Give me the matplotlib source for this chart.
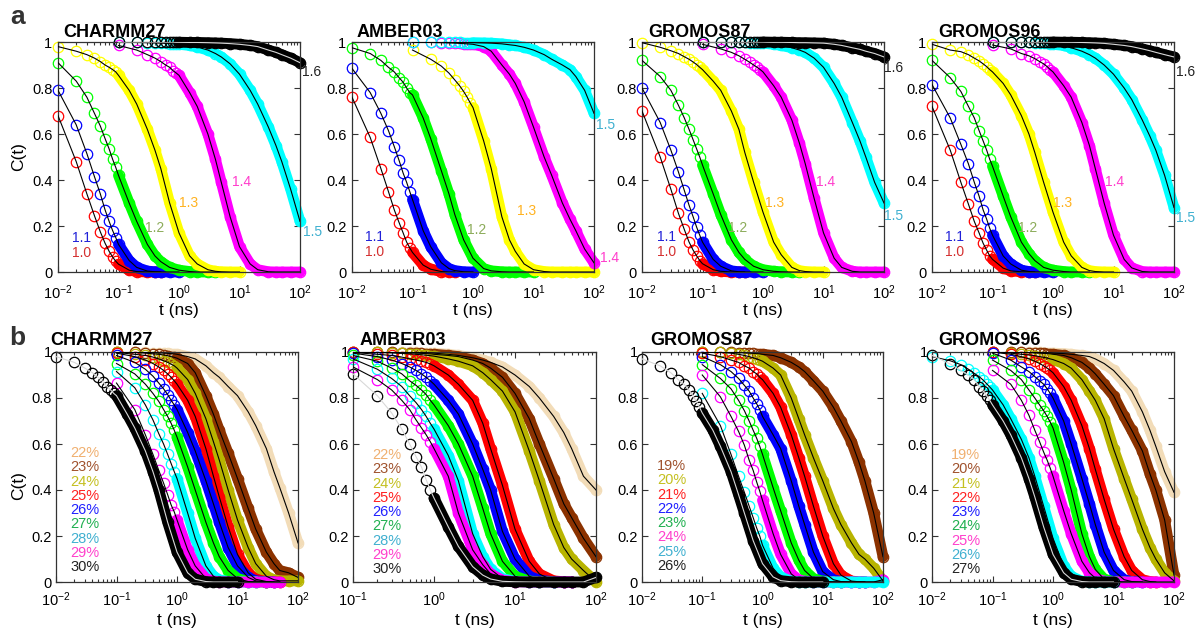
import matplotlib
matplotlib.use("Agg")
import matplotlib.pyplot as plt

plt.rcParams['font.family'] = 'Liberation Sans'
plt.rcParams['mathtext.fontset'] = 'custom'
plt.rcParams['mathtext.rm'] = 'Liberation Sans'
plt.rcParams['mathtext.it'] = 'Liberation Sans:italic'
plt.rcParams['mathtext.bf'] = 'Liberation Sans:bold'

# sampling times (ns): fine = every 0.01 ns at the start, coarse = every 0.1 ns
T_FINE = [0.01, 0.02, 0.03, 0.04, 0.05, 0.06, 0.07, 0.08, 0.09, 0.1,
          0.15, 0.2, 0.3, 0.4, 0.5, 0.7, 1, 1.5, 2, 3, 4, 5, 7, 10]
T_COARSE = [0.1, 0.2, 0.3, 0.4, 0.5, 0.6, 0.7, 0.8, 0.9, 1.0,
            1.5, 2, 3, 4, 5, 7, 10, 15, 20, 30, 40, 50, 70, 100]

# ---- row a : CHARMM27
a1_10 = [0.68, 0.48, 0.34, 0.245, 0.175, 0.125, 0.09, 0.065, 0.047, 0.034, 0.008, 0.002, 0, 0, 0]
a1_11 = [0.79, 0.64, 0.515, 0.415, 0.34, 0.27, 0.22, 0.18, 0.15, 0.12, 0.05, 0.02, 0.004, 0.001, 0, 0, 0]
a1_12 = [0.91, 0.83, 0.76, 0.69, 0.635, 0.58, 0.535, 0.49, 0.455, 0.42,
         0.3, 0.22, 0.12, 0.07, 0.045, 0.02, 0.008, 0.002, 0, 0, 0]
a1_13 = [0.98, 0.96, 0.945, 0.93, 0.915, 0.9, 0.89, 0.88, 0.87, 0.855,
         0.79, 0.73, 0.62, 0.53, 0.45, 0.3, 0.17, 0.07, 0.035, 0.01, 0.003, 0.001, 0, 0]
a1_14 = [0.985, 0.965, 0.945, 0.93, 0.915, 0.9, 0.89, 0.875, 0.865, 0.855,
         0.78, 0.72, 0.6, 0.49, 0.39, 0.24, 0.11, 0.035, 0.01, 0.001, 0, 0, 0, 0]
a1_15 = [1.0, 0.998, 0.997, 0.996, 0.995, 0.994, 0.993, 0.992, 0.991, 0.99,
         0.985, 0.978, 0.965, 0.95, 0.935, 0.905, 0.86, 0.79, 0.73, 0.63, 0.55, 0.48, 0.36, 0.22]
a1_16 = [1.0, 1.0, 1.0, 1.0, 1.0, 1.0, 1.0, 1.0, 0.999, 0.999,
         0.998, 0.998, 0.997, 0.996, 0.995, 0.993, 0.99, 0.985, 0.98, 0.965, 0.955, 0.945, 0.93, 0.91]

# ---- row a : AMBER03
a2_10 = [0.76, 0.585, 0.45, 0.35, 0.27, 0.215, 0.17, 0.13, 0.105, 0.085, 0.03, 0.012, 0.002, 0, 0]
a2_11 = [0.885, 0.78, 0.69, 0.615, 0.545, 0.485, 0.43, 0.39, 0.35, 0.315, 0.18, 0.11, 0.04, 0.015, 0.006, 0.001, 0]
a2_12 = [0.975, 0.95, 0.92, 0.89, 0.87, 0.845, 0.825, 0.8, 0.78, 0.77,
         0.67, 0.58, 0.44, 0.34, 0.25, 0.14, 0.06, 0.015, 0.005, 0.001, 0, 0, 0, 0]
a2_13 = [0.965, 0.925, 0.895, 0.865, 0.835, 0.81, 0.785, 0.76, 0.735, 0.715,
         0.57, 0.45, 0.24, 0.14, 0.09, 0.035, 0.01, 0.002, 0, 0, 0, 0, 0, 0]
a2_14 = [1.0, 0.998, 0.997, 0.996, 0.995, 0.994, 0.993, 0.992, 0.991, 0.99,
         0.98, 0.96, 0.9, 0.86, 0.82, 0.74, 0.63, 0.5, 0.42, 0.3, 0.23, 0.18, 0.1, 0.04]
a2_15 = [1.0, 0.999, 0.999, 0.998, 0.998, 0.998, 0.997, 0.997, 0.997, 0.997,
         0.996, 0.995, 0.992, 0.988, 0.985, 0.977, 0.965, 0.945, 0.925, 0.9, 0.88, 0.85, 0.79, 0.69]

# ---- row a : GROMOS87
a3_10 = [0.70, 0.50, 0.36, 0.255, 0.185, 0.13, 0.095, 0.07, 0.05, 0.036, 0.01, 0.003, 0, 0, 0]
a3_11 = [0.80, 0.65, 0.53, 0.435, 0.355, 0.29, 0.24, 0.195, 0.16, 0.13, 0.055, 0.025, 0.005, 0.001, 0, 0, 0]
a3_12 = [0.92, 0.85, 0.79, 0.725, 0.67, 0.62, 0.575, 0.535, 0.5, 0.465,
         0.34, 0.25, 0.14, 0.085, 0.055, 0.025, 0.01, 0.003, 0.001, 0, 0]
a3_13 = [0.997, 0.977, 0.962, 0.95, 0.936, 0.925, 0.913, 0.902, 0.89, 0.88,
         0.83, 0.79, 0.7, 0.62, 0.52, 0.39, 0.26, 0.13, 0.075, 0.02, 0.006, 0.002, 0, 0]
a3_14 = [0.99, 0.97, 0.955, 0.94, 0.925, 0.912, 0.9, 0.89, 0.88, 0.87,
         0.81, 0.76, 0.66, 0.56, 0.47, 0.32, 0.17, 0.06, 0.02, 0.003, 0, 0, 0, 0]
a3_15 = [1.0, 0.999, 0.999, 0.998, 0.998, 0.997, 0.997, 0.996, 0.996, 0.995,
         0.99, 0.985, 0.975, 0.965, 0.955, 0.93, 0.89, 0.82, 0.76, 0.65, 0.57, 0.5, 0.39, 0.3]
a3_16 = [1.0, 1.0, 1.0, 1.0, 1.0, 1.0, 1.0, 1.0, 1.0, 1.0,
         0.999, 0.999, 0.998, 0.997, 0.997, 0.996, 0.995, 0.99, 0.985, 0.975, 0.968, 0.96, 0.95, 0.935]

# ---- row a : GROMOS96
a4_10 = [0.72, 0.53, 0.39, 0.295, 0.22, 0.17, 0.125, 0.095, 0.07, 0.055, 0.017, 0.005, 0.001, 0, 0]
a4_11 = [0.815, 0.67, 0.555, 0.47, 0.39, 0.33, 0.27, 0.23, 0.19, 0.16, 0.07, 0.035, 0.008, 0.002, 0, 0, 0]
a4_12 = [0.92, 0.845, 0.785, 0.72, 0.67, 0.615, 0.57, 0.53, 0.49, 0.46,
         0.33, 0.24, 0.13, 0.08, 0.05, 0.02, 0.008, 0.002, 0, 0, 0]
a4_13 = [0.99, 0.965, 0.958, 0.945, 0.93, 0.918, 0.905, 0.893, 0.88, 0.87,
         0.82, 0.77, 0.68, 0.6, 0.52, 0.39, 0.26, 0.13, 0.07, 0.02, 0.006, 0.002, 0, 0]
a4_14 = [0.987, 0.97, 0.95, 0.94, 0.928, 0.915, 0.905, 0.893, 0.88, 0.87,
         0.81, 0.76, 0.65, 0.55, 0.45, 0.3, 0.16, 0.055, 0.018, 0.002, 0, 0, 0, 0]
a4_15 = [1.0, 0.999, 0.998, 0.998, 0.997, 0.996, 0.995, 0.994, 0.993, 0.99,
         0.985, 0.975, 0.96, 0.945, 0.93, 0.9, 0.86, 0.8, 0.75, 0.66, 0.59, 0.53, 0.42, 0.28]
a4_16 = [1.0, 1.0, 1.0, 1.0, 1.0, 1.0, 1.0, 1.0, 1.0, 1.0,
         0.999, 0.999, 0.998, 0.997, 0.996, 0.994, 0.99, 0.985, 0.98, 0.97, 0.962, 0.955, 0.945, 0.935]

# ---- row b : CHARMM27 (22% ... 30%)
b1_22 = [1.0, 0.999, 0.998, 0.997, 0.996, 0.995, 0.994, 0.993, 0.992, 0.99,
         0.98, 0.97, 0.94, 0.91, 0.89, 0.85, 0.81, 0.74, 0.68, 0.58, 0.48, 0.41, 0.3, 0.17]
b1_23 = [1.0, 0.998, 0.995, 0.992, 0.99, 0.987, 0.984, 0.98, 0.977, 0.973,
         0.95, 0.91, 0.81, 0.73, 0.66, 0.56, 0.45, 0.32, 0.23, 0.13, 0.08, 0.05, 0.04, 0.02]
b1_24 = [0.998, 0.99, 0.985, 0.978, 0.97, 0.962, 0.955, 0.947, 0.94, 0.93,
         0.88, 0.82, 0.71, 0.61, 0.53, 0.4, 0.27, 0.15, 0.08, 0.025, 0.01, 0.005, 0.005, 0.005]
b1_25 = [0.995, 0.98, 0.965, 0.95, 0.935, 0.92, 0.905, 0.89, 0.875, 0.86,
         0.79, 0.72, 0.58, 0.46, 0.37, 0.24, 0.12, 0.04, 0.012, 0.002, 0, 0]
b1_26 = [0.985, 0.955, 0.925, 0.895, 0.865, 0.84, 0.815, 0.79, 0.77, 0.75,
         0.65, 0.57, 0.44, 0.34, 0.26, 0.15, 0.07, 0.02, 0.005, 0.001, 0]
b1_27 = [0.95, 0.905, 0.86, 0.82, 0.785, 0.75, 0.72, 0.69, 0.66, 0.63,
         0.5, 0.4, 0.26, 0.17, 0.11, 0.05, 0.015, 0.002, 0, 0]
b1_28 = [0.915, 0.845, 0.77, 0.705, 0.645, 0.6, 0.555, 0.515, 0.48, 0.45,
         0.3, 0.19, 0.07, 0.025, 0.01, 0.002, 0, 0, 0]
b1_29 = [0.865, 0.75, 0.64, 0.555, 0.485, 0.43, 0.38, 0.335, 0.305, 0.27,
         0.14, 0.07, 0.015, 0.004, 0.001, 0, 0, 0, 0, 0, 0, 0]
b1_30 = [0.98, 0.955, 0.93, 0.91, 0.89, 0.87, 0.85, 0.835, 0.82, 0.81,
         0.73, 0.67, 0.57, 0.48, 0.4, 0.26, 0.13, 0.04, 0.012, 0.002, 0, 0, 0, 0]

# ---- row b : AMBER03 (22% ... 30%)
b2_22 = [1.0, 1.0, 0.999, 0.999, 0.998, 0.998, 0.997, 0.997, 0.996, 0.995,
         0.99, 0.985, 0.975, 0.965, 0.955, 0.935, 0.9, 0.85, 0.8, 0.72, 0.65, 0.58, 0.46, 0.4]
b2_23 = [1.0, 0.999, 0.998, 0.997, 0.996, 0.995, 0.994, 0.993, 0.992, 0.99,
         0.985, 0.98, 0.965, 0.95, 0.93, 0.89, 0.82, 0.71, 0.6, 0.45, 0.34, 0.28, 0.19, 0.11]
b2_24 = [1.0, 0.998, 0.996, 0.994, 0.992, 0.99, 0.988, 0.986, 0.984, 0.982,
         0.97, 0.96, 0.94, 0.91, 0.88, 0.83, 0.74, 0.57, 0.44, 0.25, 0.15, 0.1, 0.05, 0.0]
b2_25 = [0.998, 0.99, 0.985, 0.978, 0.97, 0.965, 0.96, 0.955, 0.948, 0.94,
         0.9, 0.86, 0.79, 0.69, 0.58, 0.42, 0.23, 0.09, 0.035, 0.005, 0.001, 0]
b2_26 = [0.995, 0.98, 0.965, 0.95, 0.935, 0.92, 0.905, 0.89, 0.875, 0.86,
         0.79, 0.73, 0.6, 0.49, 0.4, 0.22, 0.1, 0.025, 0.008, 0.001, 0, 0]
b2_27 = [0.985, 0.96, 0.93, 0.905, 0.875, 0.855, 0.835, 0.815, 0.79, 0.77,
         0.68, 0.6, 0.46, 0.32, 0.21, 0.09, 0.025, 0.004, 0.001, 0]
b2_28 = [0.97, 0.925, 0.885, 0.85, 0.81, 0.78, 0.75, 0.72, 0.69, 0.665,
         0.55, 0.44, 0.21, 0.11, 0.055, 0.015, 0.003, 0, 0, 0]
b2_29 = [0.935, 0.88, 0.835, 0.79, 0.75, 0.705, 0.67, 0.64, 0.61, 0.58,
         0.46, 0.3, 0.14, 0.075, 0.035, 0.008, 0.001, 0, 0, 0, 0, 0]
b2_30 = [0.905, 0.81, 0.735, 0.665, 0.6, 0.545, 0.5, 0.445, 0.4, 0.365,
         0.24, 0.155, 0.067, 0.03, 0.013, 0.003, 0.001, 0, 0, 0, 0, 0, 0, 0.02]

# ---- row b : GROMOS87 (19% ... 26%)
b3_19 = [1.0, 0.999, 0.998, 0.997, 0.996, 0.995, 0.994, 0.993, 0.992, 0.99,
         0.985, 0.975, 0.955, 0.935, 0.915, 0.875, 0.83, 0.76, 0.7, 0.61, 0.52, 0.44, 0.3, 0.11]
b3_20 = [1.0, 0.998, 0.995, 0.99, 0.985, 0.98, 0.975, 0.97, 0.965, 0.96,
         0.93, 0.9, 0.8, 0.71, 0.64, 0.54, 0.44, 0.32, 0.25, 0.17, 0.12, 0.1, 0.06, 0.005]
b3_21 = [0.995, 0.98, 0.965, 0.955, 0.94, 0.93, 0.915, 0.905, 0.89, 0.88,
         0.82, 0.76, 0.64, 0.54, 0.46, 0.33, 0.2, 0.08, 0.03, 0.004, 0.001, 0]
b3_22 = [0.98, 0.945, 0.915, 0.885, 0.855, 0.83, 0.8, 0.775, 0.75, 0.72,
         0.64, 0.58, 0.44, 0.33, 0.25, 0.13, 0.045, 0.01, 0.002, 0, 0, 0]
b3_23 = [0.945, 0.885, 0.84, 0.79, 0.745, 0.7, 0.66, 0.625, 0.59, 0.555,
         0.41, 0.31, 0.17, 0.095, 0.05, 0.015, 0.003, 0, 0]
b3_24 = [0.9, 0.805, 0.72, 0.655, 0.595, 0.53, 0.485, 0.435, 0.395, 0.355,
         0.21, 0.12, 0.035, 0.01, 0.003, 0.001, 0, 0, 0, 0, 0, 0, 0, 0.01]
b3_25 = [0.82, 0.68, 0.555, 0.46, 0.39, 0.33, 0.28, 0.235, 0.2, 0.16,
         0.06, 0.022, 0.003, 0.001, 0, 0, 0, 0, 0, 0, 0, 0, 0, 0]
b3_26 = [0.97, 0.94, 0.91, 0.88, 0.86, 0.835, 0.81, 0.785, 0.76, 0.735,
         0.66, 0.59, 0.48, 0.38, 0.3, 0.18, 0.08, 0.022, 0.006, 0.001, 0, 0, 0, 0]

# ---- row b : GROMOS96 (19% ... 27%)
b4_19 = [1.0, 1.0, 0.999, 0.999, 0.998, 0.998, 0.997, 0.997, 0.996, 0.995,
         0.993, 0.99, 0.985, 0.98, 0.97, 0.95, 0.92, 0.87, 0.83, 0.74, 0.66, 0.59, 0.48, 0.39]
b4_20 = [1.0, 0.999, 0.998, 0.997, 0.996, 0.995, 0.994, 0.993, 0.992, 0.99,
         0.985, 0.975, 0.955, 0.93, 0.905, 0.86, 0.81, 0.72, 0.66, 0.57, 0.47, 0.4, 0.27, 0.03]
b4_21 = [1.0, 0.995, 0.99, 0.987, 0.984, 0.98, 0.977, 0.974, 0.97, 0.967,
         0.95, 0.93, 0.88, 0.83, 0.79, 0.71, 0.58, 0.45, 0.36, 0.23, 0.15, 0.1, 0.04, 0.005]
b4_22 = [1.0, 0.99, 0.98, 0.97, 0.96, 0.95, 0.94, 0.93, 0.92, 0.91,
         0.85, 0.79, 0.68, 0.58, 0.49, 0.36, 0.23, 0.11, 0.05, 0.01, 0.002, 0]
b4_23 = [0.995, 0.965, 0.935, 0.915, 0.893, 0.875, 0.86, 0.84, 0.82, 0.8,
         0.7, 0.6, 0.45, 0.34, 0.25, 0.13, 0.05, 0.01, 0.002, 0]
b4_24 = [0.965, 0.92, 0.88, 0.835, 0.8, 0.77, 0.745, 0.72, 0.695, 0.67,
         0.52, 0.4, 0.21, 0.11, 0.055, 0.012, 0.002, 0, 0]
b4_25 = [0.92, 0.86, 0.79, 0.725, 0.66, 0.61, 0.565, 0.53, 0.495, 0.46,
         0.31, 0.21, 0.09, 0.04, 0.017, 0.003, 0.001, 0, 0, 0, 0, 0, 0, 0]
b4_26 = [0.98, 0.962, 0.945, 0.925, 0.907, 0.893, 0.878, 0.862, 0.848, 0.835,
         0.77, 0.71, 0.62, 0.54, 0.46, 0.33, 0.19, 0.07, 0.025, 0.003, 0.001, 0, 0, 0]
b4_27 = [0.985, 0.948, 0.92, 0.9, 0.88, 0.85, 0.83, 0.81, 0.79, 0.77,
         0.7, 0.64, 0.54, 0.45, 0.37, 0.24, 0.12, 0.04, 0.012, 0.002, 0, 0, 0, 0]

TITLES = ["CHARMM27", "AMBER03", "GROMOS87", "GROMOS96"]
TOP_LABELS = ["1.0", "1.1", "1.2", "1.3", "1.4", "1.5", "1.6"]
B1_LABELS = ["22%", "23%", "24%", "25%", "26%", "27%", "28%", "29%", "30%"]
B3_LABELS = ["19%", "20%", "21%", "22%", "23%", "24%", "25%", "26%"]
B4_LABELS = ["19%", "20%", "21%", "22%", "23%", "24%", "25%", "26%", "27%"]

# curve colours / label colours
RED, BLUE, GREEN, YELLOW = '#ff0000', '#0000ff', '#00ff00', '#ffff00'
MAG, CYAN, BLACK = '#ff00ff', '#00ffff', '#000000'
TAN, BROWN, OLIVE = '#f2dcb8', '#8b3200', '#b8b400'
TOP_CURVE_COLS = [RED, BLUE, GREEN, YELLOW, MAG, CYAN, BLACK]
TOP_TEXT_COLS = ['#d42f2f', '#2020d8', '#8cac5a', '#ffb21f', '#ff3dcc', '#3fb0d0', '#222222']
LBL = {TAN: '#f0b070', BROWN: '#a0522d', OLIVE: '#c4c020', RED: '#ff2020', BLUE: '#2020ff',
       GREEN: '#20b050', CYAN: '#40b0d0', MAG: '#ff40cc', BLACK: '#222222'}

F, C = T_FINE, T_COARSE
top_panels = [
    [(F, a1_10), (F, a1_11), (F, a1_12), (F, a1_13), (C, a1_14), (C, a1_15), (C, a1_16)],
    [(F, a2_10), (F, a2_11), (F, a2_12), (C, a2_13), (C, a2_14), (C, a2_15)],
    [(F, a3_10), (F, a3_11), (F, a3_12), (F, a3_13), (C, a3_14), (C, a3_15), (C, a3_16)],
    [(F, a4_10), (F, a4_11), (F, a4_12), (F, a4_13), (C, a4_14), (C, a4_15), (C, a4_16)],
]
top_label_pos = [
    [(0.058, 0.083), (0.058, 0.148), (0.36, 0.19), (0.50, 0.30), (0.72, 0.39), (1.012, 0.175), (1.01, 0.87)],
    [(0.054, 0.087), (0.054, 0.152), (0.475, 0.183), (0.68, 0.265), (1.025, 0.06), (1.01, 0.64)],
    [(0.062, 0.087), (0.062, 0.152), (0.355, 0.19), (0.51, 0.30), (0.72, 0.39), (1.0, 0.243), (0.998, 0.887)],
    [(0.054, 0.087), (0.054, 0.152), (0.355, 0.19), (0.50, 0.30), (0.715, 0.39), (1.01, 0.235), (1.01, 0.87)],
]

ORDER_B1 = [TAN, BROWN, OLIVE, RED, BLUE, GREEN, CYAN, MAG, BLACK]
ORDER_B3 = [BROWN, OLIVE, RED, BLUE, GREEN, MAG, CYAN, BLACK]
ORDER_B4 = [TAN, BROWN, OLIVE, RED, BLUE, GREEN, MAG, CYAN, BLACK]
bottom_panels = [
    ([(C, b1_22), (C, b1_23), (C, b1_24), (C, b1_25), (C, b1_26), (C, b1_27), (C, b1_28), (C, b1_29), (F, b1_30)],
     ORDER_B1, B1_LABELS, (0.058, 0.56), (0.01, 100)),
    ([(C, b2_22), (C, b2_23), (C, b2_24), (C, b2_25), (C, b2_26), (C, b2_27), (C, b2_28), (C, b2_29), (C, b2_30)],
     ORDER_B1, B1_LABELS, (0.08, 0.552), (0.1, 100)),
    ([(C, b3_19), (C, b3_20), (C, b3_21), (C, b3_22), (C, b3_23), (C, b3_24), (C, b3_25), (F, b3_26)],
     ORDER_B3, B3_LABELS, (0.062, 0.504), (0.01, 100)),
    ([(C, b4_19), (C, b4_20), (C, b4_21), (C, b4_22), (C, b4_23), (C, b4_24), (C, b4_25), (F, b4_26), (F, b4_27)],
     ORDER_B4, B4_LABELS, (0.078, 0.552), (0.01, 100)),
]

W, H = 1198, 634
fig = plt.figure(figsize=(W / 100, H / 100), dpi=100)


def px_axes(left, bottom, width, height=230):
    return fig.add_axes([left / W, 1 - bottom / H, width / W, height / H])


def draw_curves(ax, curves, colors):
    for (t, c), col in zip(curves, colors):
        t = t[:len(c)]
        ax.plot(t, c, 'o', ms=7.5, mfc='none', mec=col, mew=0.9, clip_on=False, zorder=2)
        ax.plot(t[9:], c[9:], '-', color=col, lw=7.8, solid_capstyle='round', clip_on=False, zorder=2)
    for (t, c), col in zip(curves, colors):
        t = t[:len(c)]
        fit = '#d8d8d8' if col == BLACK else 'black'
        ax.plot(t, c, '-', color=fit, lw=0.8, zorder=3)


def style(ax, xlim, xpad, ypad):
    ax.set_xscale('log')
    ax.set_xlim(*xlim)
    ax.set_ylim(0, 1)
    ax.set_yticks([0, 0.2, 0.4, 0.6, 0.8, 1.0])
    ax.set_yticklabels(['0', '0.2', '0.4', '0.6', '0.8', '1'])
    ax.tick_params(which='both', direction='in', top=True, right=True, labelsize=10.5, width=0.8, color='#333333')
    ax.tick_params(which='major', length=4.5)
    ax.tick_params(which='minor', length=2.5)
    ax.tick_params(axis='x', which='major', pad=xpad)
    ax.tick_params(axis='y', which='major', pad=ypad)
    for s in ax.spines.values():
        s.set_color('#333333')
        s.set_linewidth(0.9)


top_lefts = [58, 352, 642, 932]
top_title_x = [63, 357, 648, 938]
for i in range(4):
    ax = px_axes(top_lefts[i], 272, 242)
    cols = TOP_CURVE_COLS[:len(top_panels[i])]
    draw_curves(ax, top_panels[i], cols)
    style(ax, (0.01, 100), 8, 4)
    for k, (x, y) in enumerate(top_label_pos[i]):
        ax.text(x, y, TOP_LABELS[k], transform=ax.transAxes, color=TOP_TEXT_COLS[k],
                fontsize=10, ha='left', va='center')
    ax.set_xlabel('t (ns)', fontsize=12.5)
    ax.xaxis.set_label_coords(0.5, -0.135)
    if i == 0:
        ax.set_ylabel('C(t)', fontsize=12.5)
        ax.yaxis.set_label_coords(-0.13, 0.5)
    fig.text(top_title_x[i] / W, 1 - 37 / H, TITLES[i], fontsize=13, fontweight='bold',
             ha='left', va='baseline')

bot_lefts = [56, 353, 642, 932]
bot_widths = [242, 243, 241, 242]
bot_title_x = [50, 360, 650, 938]
for i in range(4):
    curves, cols, labels, (lx, ly), xlim = bottom_panels[i]
    ax = px_axes(bot_lefts[i], 582, bot_widths[i])
    draw_curves(ax, curves, cols)
    style(ax, xlim, 6, 3)
    for k, lab in enumerate(labels):
        ax.text(lx, ly - 0.062 * k, lab, transform=ax.transAxes, color=LBL[cols[k]],
                fontsize=10.5, ha='left', va='center')
    ax.set_xlabel('t (ns)', fontsize=12.5)
    ax.xaxis.set_label_coords(0.5, -0.135)
    if i == 0:
        ax.set_ylabel('C(t)', fontsize=12.5)
        ax.yaxis.set_label_coords(-0.125, 0.42)
    fig.text(bot_title_x[i] / W, 1 - 345 / H, TITLES[i], fontsize=13, fontweight='bold',
             ha='left', va='baseline')

fig.text(10 / W, 1 - 24 / H, 'a', fontsize=19, fontweight='bold', color='#333333', va='baseline')
fig.text(9 / W, 1 - 345 / H, 'b', fontsize=19, fontweight='bold', color='#333333', va='baseline')

fig.savefig('out.png', dpi=100)
